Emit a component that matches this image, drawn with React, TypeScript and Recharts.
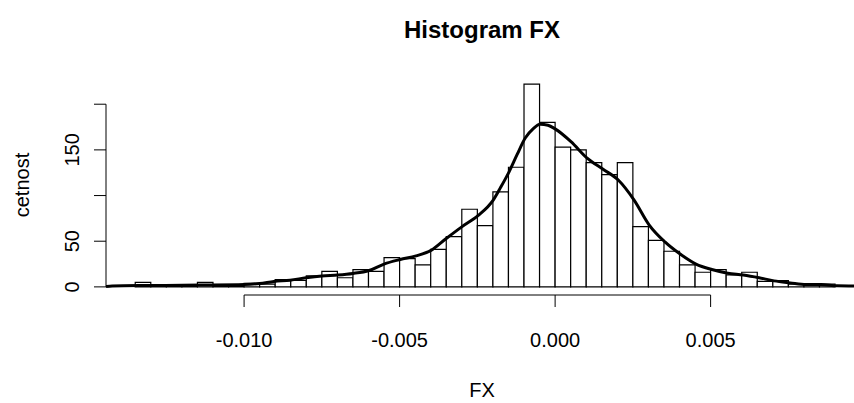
import React from 'react';
import { ComposedChart, Line, XAxis, YAxis, ReferenceArea, ReferenceLine } from 'recharts';

const binStarts = [
  -0.0135, -0.013, -0.0125, -0.012, -0.0115, -0.011, -0.0105, -0.01, -0.0095, -0.009,
  -0.0085, -0.008, -0.0075, -0.007, -0.0065, -0.006, -0.0055, -0.005, -0.0045, -0.004,
  -0.0035, -0.003, -0.0025, -0.002, -0.0015, -0.001, -0.0005, 0, 0.0005, 0.001,
  0.0015, 0.002, 0.0025, 0.003, 0.0035, 0.004, 0.0045, 0.005, 0.0055, 0.006,
  0.0065, 0.007, 0.0075, 0.008, 0.0085,
];
const binCounts = [
  5, 1, 1, 1, 5, 1, 1, 4, 3, 8,
  7, 12, 17, 10, 19, 17, 32, 31, 24, 41,
  55, 85, 67, 104, 131, 222, 180, 153, 150, 136,
  123, 136, 66, 51, 39, 24, 16, 19, 13, 16,
  6, 7, 3, 2, 3,
];
const binWidth = 0.0005;

const densityX = [
  -0.01444, -0.01424, -0.01302, -0.01141, -0.01, -0.0095, -0.00904, -0.00852, -0.00801, -0.0075,
  -0.00699, -0.0065, -0.00598, -0.0055, -0.00498, -0.00447, -0.00399, -0.0035, -0.00299, -0.00248,
  -0.00199, -0.00175, -0.00148, -0.00122, -0.00096, -0.00071, -0.00048, -0.00023, 0, 0.00051, 0.00103,
  0.00153, 0.00203, 0.00254, 0.00302, 0.00354, 0.00402, 0.00453, 0.00504, 0.00555, 0.00605,
  0.00656, 0.00704, 0.00756, 0.00807, 0.00855, 0.00907, 0.00961,
];
const densityY = [
  0.5, 1, 1.5, 2, 2.6, 3.7, 6, 7.3, 10, 12,
  13, 14.7, 18, 25, 30, 34, 40, 53, 66, 78,
  95, 109, 126, 145, 163, 173, 178, 177, 173, 159, 141,
  129, 117, 95, 68, 49, 36, 25, 19, 15, 13,
  10, 6.6, 4.4, 2.6, 2.6, 1.2, 1,
];

const xTicks = [-0.01, -0.005, 0, 0.005];
const yTicks = [0, 50, 100, 150, 200];
const yTickLabels = ['0', '50', '', '150', ''];

const xDomain = [-0.01444, 0.00961];
const yDomain = [-8.88, 230.88];

const FONT = '"Liberation Sans", Arial, Helvetica, sans-serif';

const curveData = densityX.map((x, i) => ({ x, y: densityY[i] }));

const YTick = (props: any) => {
  const { x, y, payload } = props;
  const idx = yTicks.indexOf(payload.value);
  const label = idx >= 0 ? yTickLabels[idx] : '';
  if (!label) return <g />;
  const cx = x - 22;
  return (
    <text
      x={cx}
      y={y}
      transform={`rotate(-90, ${cx}, ${y})`}
      textAnchor="middle"
      dominantBaseline="central"
      fontSize={20}
      fontFamily={FONT}
      fill="#000"
    >
      {label}
    </text>
  );
};

export default function App() {
  return (
    <div style={{ position: 'absolute', left: 0, top: 0, width: 854, height: 403, background: '#fff' }}>
      <ComposedChart
        width={854}
        height={403}
        data={curveData}
        margin={{ top: 76, right: 0, bottom: 0, left: 0 }}
      >
        <XAxis
          dataKey="x"
          type="number"
          domain={xDomain}
          allowDataOverflow
          ticks={xTicks}
          tickFormatter={(v: number) => v.toFixed(3)}
          axisLine={false}
          tickLine={{ stroke: '#000', strokeWidth: 1 }}
          tickSize={12}
          tickMargin={26}
          tick={{ fontSize: 20, fontFamily: FONT, fill: '#000' }}
          height={108}
        />
        <YAxis
          type="number"
          domain={yDomain}
          allowDataOverflow
          ticks={yTicks}
          axisLine={false}
          tickLine={{ stroke: '#000', strokeWidth: 1 }}
          tickSize={12}
          tickMargin={0}
          tick={<YTick />}
          width={106}
        />
        {binStarts.map((s, i) => (
          <ReferenceArea
            key={i}
            x1={s}
            x2={s + binWidth}
            y1={0}
            y2={binCounts[i]}
            fill="#fff"
            fillOpacity={1}
            stroke="#000"
            strokeWidth={1.2}
            strokeOpacity={1}
          />
        ))}
        <ReferenceLine
          segment={[{ x: xTicks[0], y: yDomain[0] }, { x: xTicks[xTicks.length - 1], y: yDomain[0] }]}
          stroke="#000"
          strokeWidth={1}
          ifOverflow="visible"
        />
        <ReferenceLine
          segment={[{ x: xDomain[0], y: yTicks[0] }, { x: xDomain[0], y: yTicks[yTicks.length - 1] }]}
          stroke="#000"
          strokeWidth={1}
          ifOverflow="visible"
        />
        <Line
          dataKey="y"
          type="monotone"
          stroke="#000"
          strokeWidth={3}
          dot={false}
          isAnimationActive={false}
        />
      </ComposedChart>
      <div
        style={{
          position: 'absolute', left: 0, width: 964, top: 16, textAlign: 'center',
          fontFamily: FONT, fontWeight: 'bold', fontSize: 24, lineHeight: '28px', color: '#000',
        }}
      >
        Histogram FX
      </div>
      <div
        style={{
          position: 'absolute', left: 0, width: 964, top: 377, textAlign: 'center',
          fontFamily: FONT, fontSize: 20, lineHeight: '26px', color: '#000',
        }}
      >
        FX
      </div>
      <div
        style={{
          position: 'absolute', left: 22 - 60, top: 185 - 13, width: 120, height: 26,
          lineHeight: '26px', textAlign: 'center', transform: 'rotate(-90deg)',
          fontFamily: FONT, fontSize: 20, color: '#000',
        }}
      >
        cetnost
      </div>
    </div>
  );
}
